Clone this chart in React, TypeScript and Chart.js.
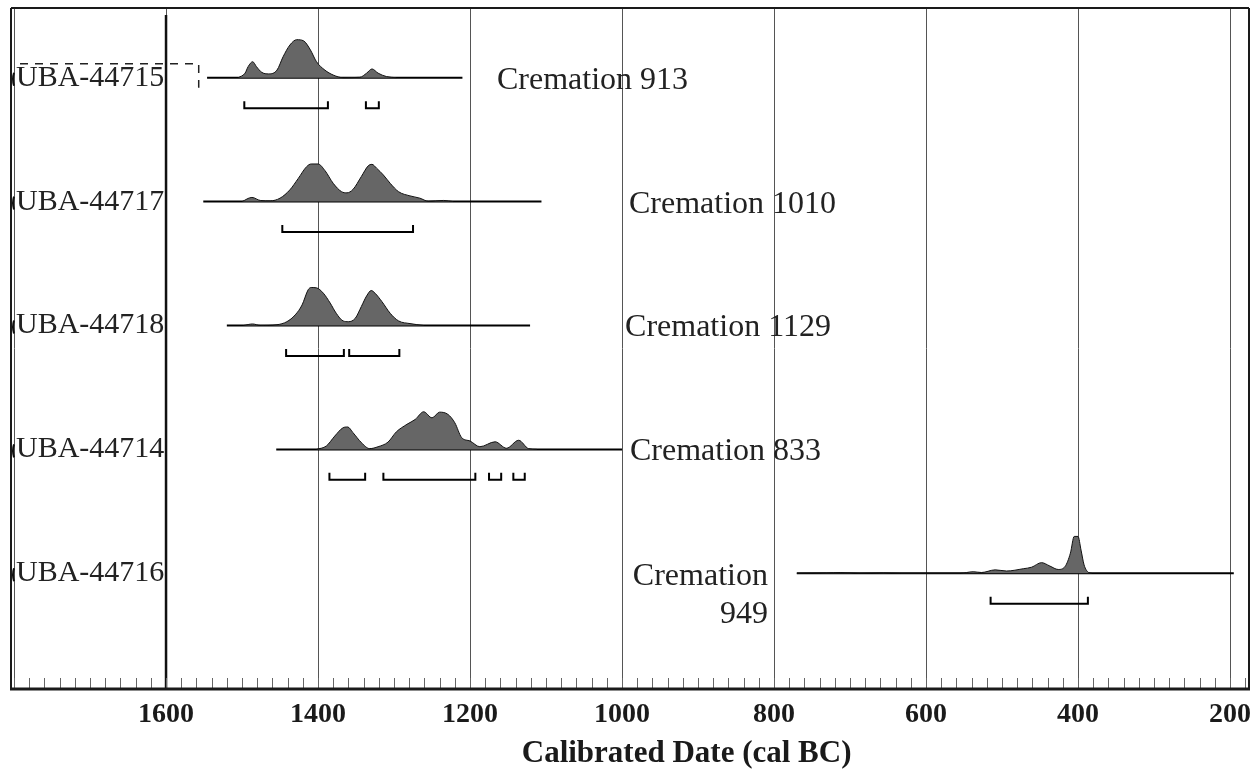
import { useEffect, useRef } from 'react';
import { Chart, registerables } from 'chart.js';

Chart.register(...registerables);

// ---------- data ----------
const sampleNames = ['UBA-44715', 'UBA-44717', 'UBA-44718', 'UBA-44714', 'UBA-44716'];
const contextNames = ['Cremation 913', 'Cremation 1010', 'Cremation 1129', 'Cremation 833', 'Cremation 949'];

const years44715 = [1505, 1496, 1492, 1486, 1481, 1474, 1465, 1454, 1446, 1437, 1428, 1419, 1410, 1402, 1391, 1380, 1367, 1345, 1336, 1329, 1321, 1310, 1297];
const prob44715 = [0, 0.12, 0.29, 0.42, 0.29, 0.14, 0.1, 0.2, 0.55, 0.86, 1.0, 0.97, 0.73, 0.42, 0.2, 0.07, 0, 0.01, 0.12, 0.23, 0.12, 0.03, 0];

const years44717 = [1500, 1487, 1476, 1463, 1450, 1437, 1426, 1415, 1409, 1400, 1391, 1380, 1369, 1362, 1354, 1343, 1334, 1329, 1323, 1314, 1305, 1294, 1279, 1266, 1255, 1235, 1222];
const prob44717 = [0, 0.11, 0.03, 0.02, 0.09, 0.31, 0.61, 0.92, 0.99, 0.99, 0.82, 0.48, 0.26, 0.23, 0.32, 0.66, 0.94, 0.98, 0.88, 0.7, 0.48, 0.26, 0.15, 0.09, 0.01, 0.03, 0];

const years44718 = [1498, 1486, 1476, 1454, 1441, 1430, 1421, 1413, 1409, 1402, 1393, 1384, 1376, 1367, 1360, 1351, 1343, 1336, 1330, 1325, 1316, 1305, 1294, 1279, 1261];
const prob44718 = [0, 0.04, 0, 0.02, 0.1, 0.28, 0.54, 0.94, 1.0, 0.99, 0.85, 0.59, 0.32, 0.12, 0.1, 0.19, 0.5, 0.78, 0.92, 0.85, 0.63, 0.32, 0.12, 0.05, 0];

const years44714 = [1402, 1389, 1378, 1367, 1361, 1354, 1343, 1332, 1321, 1308, 1297, 1283, 1272, 1261, 1250, 1240, 1229, 1220, 1211, 1200, 1187, 1167, 1152, 1136, 1123, 1112];
const prob44714 = [0, 0.09, 0.35, 0.57, 0.59, 0.44, 0.18, 0.02, 0.07, 0.19, 0.46, 0.66, 0.79, 0.99, 0.83, 0.98, 0.92, 0.7, 0.31, 0.22, 0.07, 0.2, 0.03, 0.24, 0.02, 0];

const years44716 = [770, 731, 713, 687, 656, 634, 555, 538, 527, 509, 494, 472, 461, 448, 437, 426, 417, 410, 405, 400, 396, 392, 386, 382];
const prob44716 = [0, 0.01, 0.02, 0, 0.01, 0, 0, 0.04, 0.02, 0.09, 0.06, 0.12, 0.16, 0.28, 0.19, 0.1, 0.18, 0.53, 0.97, 0.97, 0.61, 0.22, 0.02, 0];

const lineFrom = [1546, 1551, 1520, 1455, 770];
const lineTo = [1210, 1106, 1121, 1000, 195];

const ranges44715 = [[1497, 1387], [1337, 1320]];
const ranges44717 = [[1447, 1275]];
const ranges44718 = [[1442, 1366], [1359, 1293]];
const ranges44714 = [[1385, 1338], [1314, 1193], [1175, 1159], [1143, 1128]];
const ranges44716 = [[515, 387]];

const majorTicks = [1600, 1400, 1200, 1000, 800, 600, 400, 200];
const gridYears = [1800, 1600, 1400, 1200, 1000, 800, 600, 400, 200];
const axisTitle = 'Calibrated Date (cal BC)';

// ---------- layout / style ----------
const axisMin = 175;
const axisMax = 1804;
const yMin = 0.4375;
const yMax = 5.934;
const peakH = 0.3067;
const bracketOff = 0.246;
const bracketTick = 0.0565;
const contextX = [1164.5, 990.8, 996, 989.5, 808]; // anchor years for context labels
const serif = '"Liberation Serif", "Times New Roman", serif';

const densYears = [years44715, years44717, years44718, years44714, years44716];
const densProb = [prob44715, prob44717, prob44718, prob44714, prob44716];
const rangeSets = [ranges44715, ranges44717, ranges44718, ranges44714, ranges44716];

function buildDatasets() {
  const ds: any[] = [];
  for (let i = 0; i < sampleNames.length; i++) {
    const row = i + 1;
    ds.push({
      label: sampleNames[i],
      data: densYears[i].map((yr, k) => ({ x: yr, y: row - densProb[i][k] * peakH })),
      showLine: true,
      pointRadius: 0,
      borderColor: '#111',
      borderWidth: 1,
      backgroundColor: '#666666',
      fill: { value: row },
      cubicInterpolationMode: 'monotone',
    });
    ds.push({
      label: sampleNames[i] + ' line',
      data: [{ x: lineFrom[i], y: row }, { x: lineTo[i], y: row }],
      showLine: true,
      pointRadius: 0,
      borderColor: '#000',
      borderWidth: 2,
      fill: false,
    });
    for (const r of rangeSets[i]) {
      const yb = row + bracketOff;
      ds.push({
        label: sampleNames[i] + ' range',
        data: [
          { x: r[0], y: yb - bracketTick },
          { x: r[0], y: yb },
          { x: r[1], y: yb },
          { x: r[1], y: yb - bracketTick },
        ],
        showLine: true,
        pointRadius: 0,
        borderColor: '#000',
        borderWidth: 2,
        fill: false,
        tension: 0,
      });
    }
  }
  return ds;
}

const decor = {
  id: 'decor',
  beforeDatasetsDraw(chart: any) {
    const { ctx, chartArea: a, scales } = chart;
    const x = scales.x;
    ctx.save();
    ctx.lineWidth = 1;
    ctx.strokeStyle = '#555';
    for (const g of gridYears) {
      const px = Math.round(x.getPixelForValue(g)) + 0.5;
      ctx.beginPath();
      ctx.moveTo(px, a.top);
      ctx.lineTo(px, a.bottom);
      ctx.stroke();
    }
    // heavy 1600 line
    const p16 = x.getPixelForValue(1600);
    ctx.strokeStyle = '#111';
    ctx.lineWidth = 2.5;
    ctx.beginPath();
    ctx.moveTo(p16, a.top + 7);
    ctx.lineTo(p16, a.bottom);
    ctx.stroke();
    ctx.restore();
  },
  afterDatasetsDraw(chart: any) {
    const { ctx, chartArea: a, scales } = chart;
    const x = scales.x;
    const y = scales.y;
    ctx.save();
    // minor ticks
    ctx.strokeStyle = '#666';
    ctx.lineWidth = 1;
    for (let v = 1800; v >= 180; v -= 20) {
      const px = Math.round(x.getPixelForValue(v)) + 0.5;
      ctx.beginPath();
      ctx.moveTo(px, a.bottom - 11);
      ctx.lineTo(px, a.bottom);
      ctx.stroke();
    }
    // frame
    ctx.strokeStyle = '#1a1a1a';
    ctx.lineWidth = 2;
    ctx.beginPath();
    ctx.moveTo(a.left, a.top);
    ctx.lineTo(a.right, a.top);
    ctx.moveTo(a.left, a.top);
    ctx.lineTo(a.left, a.bottom);
    ctx.moveTo(a.right, a.top);
    ctx.lineTo(a.right, a.bottom);
    ctx.stroke();
    ctx.lineWidth = 3;
    ctx.beginPath();
    ctx.moveTo(a.left - 1, a.bottom);
    ctx.lineTo(a.right + 1, a.bottom);
    ctx.stroke();

    // small marks on the left frame beside each label
    ctx.lineWidth = 2;
    ctx.strokeStyle = '#111';
    for (let i = 0; i < sampleNames.length; i++) {
      const py = y.getPixelForValue(i + 1);
      ctx.beginPath();
      ctx.moveTo(a.left + 3, py - 5);
      ctx.quadraticCurveTo(a.left + 1, py + 1, a.left + 3, py + 8);
      ctx.stroke();
    }

    // dashed outline artifact near first label
    const r1 = y.getPixelForValue(1);
    ctx.setLineDash([8, 7]);
    ctx.lineWidth = 1.5;
    ctx.strokeStyle = '#222';
    ctx.beginPath();
    ctx.moveTo(a.left + 9, r1 - 14);
    ctx.lineTo(x.getPixelForValue(1557), r1 - 14);
    ctx.lineTo(x.getPixelForValue(1557), r1 + 10);
    ctx.stroke();
    ctx.setLineDash([]);

    // sample labels
    ctx.fillStyle = '#222';
    ctx.textAlign = 'left';
    ctx.textBaseline = 'alphabetic';
    ctx.font = '30px ' + serif;
    for (let i = 0; i < sampleNames.length; i++) {
      const py = y.getPixelForValue(i + 1);
      ctx.fillText(sampleNames[i], a.left + 5, py + 8);
    }
    // context labels
    ctx.font = '32px ' + serif;
    for (let i = 0; i < contextNames.length; i++) {
      const py = y.getPixelForValue(i + 1);
      const px = x.getPixelForValue(contextX[i]);
      if (i === contextNames.length - 1) {
        const parts = contextNames[i].split(' ');
        ctx.textAlign = 'right';
        ctx.fillText(parts[0], px, py + 12);
        ctx.fillText(parts[1], px, py + 50);
      } else {
        ctx.textAlign = 'left';
        ctx.fillText(contextNames[i], px, py + 11);
      }
    }
    // tick labels
    ctx.font = 'bold 28px ' + serif;
    ctx.textAlign = 'center';
    ctx.fillStyle = '#1a1a1a';
    for (const t of majorTicks) {
      ctx.fillText(String(t), x.getPixelForValue(t), a.bottom + 33);
    }
    // axis title
    ctx.font = 'bold 31px ' + serif;
    ctx.fillText(axisTitle, x.getPixelForValue(915), a.bottom + 73);
    ctx.restore();
  },
};

export default function App() {
  const ref = useRef<HTMLCanvasElement | null>(null);
  useEffect(() => {
    document.body.style.margin = '0';
    const canvas = ref.current;
    if (!canvas) return;
    const chart = new Chart(canvas, {
      type: 'scatter',
      data: { datasets: buildDatasets() },
      options: {
        responsive: false,
        animation: false,
        devicePixelRatio: 1,
        layout: { padding: { left: 11, right: 4, top: 8, bottom: 83 } },
        plugins: { legend: { display: false }, tooltip: { enabled: false }, title: { display: false } },
        scales: {
          x: { type: 'linear', min: axisMin, max: axisMax, reverse: true, display: false },
          y: { type: 'linear', min: yMin, max: yMax, reverse: true, display: false },
        },
      },
      plugins: [decor],
    } as any);
    return () => chart.destroy();
  }, []);
  return (
    <div style={{ width: 1253, height: 772, background: '#fff' }}>
      <canvas ref={ref} width={1253} height={772} style={{ display: 'block' }} />
    </div>
  );
}
